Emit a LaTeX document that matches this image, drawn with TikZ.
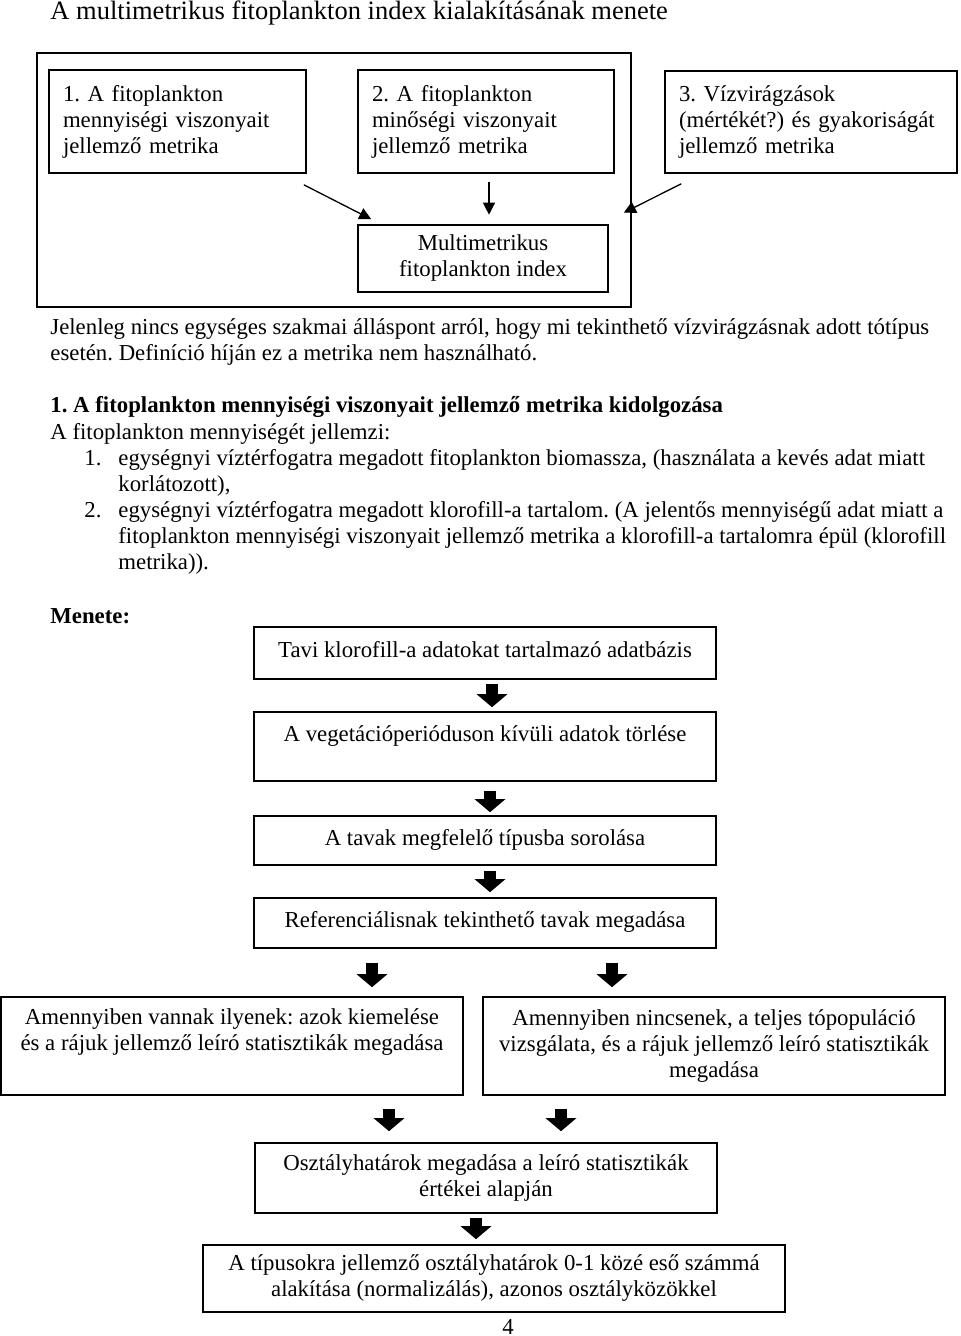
\documentclass[tikz,border=0pt]{standalone}
\usepackage{fontspec}
\setmainfont{Liberation Serif}
\usetikzlibrary{calc, positioning, arrows.meta}
\frenchspacing
\newcommand{\txtfont}{\fontsize{11.4pt}{13pt}\selectfont}
\newcommand{\ttlfont}{\fontsize{13.25pt}{15pt}\selectfont}

\begin{document}
\begin{tikzpicture}[x=0.5pt, y=-0.5pt,
  txt/.style={anchor=base west, inner sep=0pt, font=\txtfont},
  box/.style={draw, line width=0.8pt, inner xsep=7pt, inner ysep=0pt, font=\txtfont},
  topbox/.style={box, align=left},
  flow/.style={box, align=center, minimum width=#1},
  single/.style={text height=8pt, text depth=3.5pt},
  arr/.style={line width=0.65pt, -{Triangle[length=6pt, width=6pt]}},
  fat/.style={line width=6pt, -{Triangle[length=6.5pt, width=15pt]}}]
  \path[use as bounding box, fill=white] (0,0) rectangle (960,1336);

  % Title
  \node[txt, font=\ttlfont] (title) at (50,20) {A multimetrikus fitoplankton index kialakításának menete};

  % Frame round the first two metrics
  \draw[line width=0.8pt] (37,53) rectangle (631,307);

  % Metrics
  \node[topbox, text width=114.5pt, minimum height=51.5pt] (mq) at (177.5,121.5) {1. A fitoplankton\\mennyiségi viszonyait\\jellemző metrika};
  \node[topbox, text width=114pt, minimum height=51.5pt] (mql) at (486,121.5) {2. A fitoplankton\\minőségi viszonyait\\jellemző metrika};
  \node[topbox, text width=132pt, minimum height=51pt] (mv) at (811,122) {3. Vízvirágzások\\(mértékét?) és gyakoriságát\\jellemző metrika};
  \node[flow=125pt, minimum height=33.5pt] (mfi) at (483,258.5) {Multimetrikus\\fitoplankton index};

  \draw[arr] ($(mq.south east)+(-3,11)$) -- ($(mfi.north west)+(14,-5)$);
  \draw[arr] ($(mql.south)+(3,8)$) -- ($(mfi.north)+(6,-9.5)$);
  \draw[arr] ($(mv.south west)+(17,10)$) -- ($(mfi.north east)+(15,-11.5)$);

  % Text
  \node[txt] (p1) at (50,335) {Jelenleg nincs egységes szakmai álláspont arról, hogy mi tekinthető vízvirágzásnak adott tótípus};
  \node[txt] (p2) at (50,361) {esetén. Definíció híján ez a metrika nem használható.};
  \node[txt, font=\txtfont\bfseries] (h1) at (50,413) {1. A fitoplankton mennyiségi viszonyait jellemző metrika kidolgozása};
  \node[txt] (p3) at (50,439) {A fitoplankton mennyiségét jellemzi:};
  \node[txt] (n1) at (84,465) {1.};
  \node[txt] (l1a) at (118,465) {egységnyi víztérfogatra megadott fitoplankton biomassza, (használata a kevés adat miatt};
  \node[txt] (l1b) at (118,491) {korlátozott),};
  \node[txt] (n2) at (84,517) {2.};
  \node[txt] (l2a) at (118,517) {egységnyi víztérfogatra megadott klorofill-a tartalom. (A jelentős mennyiségű adat miatt a};
  \node[txt] (l2b) at (118,543) {fitoplankton mennyiségi viszonyait jellemző metrika a klorofill-a tartalomra épül (klorofill};
  \node[txt] (l2c) at (118,569) {metrika)).};
  \node[txt, font=\txtfont\bfseries] (menete) at (50,623) {Menete:};

  % Steps
  \node[flow=231pt, single, minimum height=26pt] (A) at (485,653) {Tavi klorofill-a adatokat tartalmazó adatbázis};
  \node[flow=231pt, minimum height=34.5pt] (B) at (485,746.5) {A vegetációperióduson kívüli adatok törlése\\\mbox{}};
  \node[flow=231pt, single, minimum height=24.5pt] (C) at (485,840.5) {A tavak megfelelő típusba sorolása};
  \node[flow=231pt, single, minimum height=25pt] (D) at (485,923) {Referenciálisnak tekinthető tavak megadása};
  \node[flow=231pt, minimum height=49pt] (E) at (232,1046) {Amennyiben vannak ilyenek: azok kiemelése\\és a rájuk jellemző leíró statisztikák megadása\\\rule[-3pt]{0pt}{0pt}};
  \node[flow=231pt, minimum height=49pt] (F) at (714,1046) {Amennyiben nincsenek, a teljes tópopuláció\\vizsgálata, és a rájuk jellemző leíró statisztikák\\megadása};
  \node[flow=231pt, minimum height=35pt] (G) at (486,1178) {Osztályhatárok megadása a leíró statisztikák\\értékei alapján};
  \node[flow=291pt, minimum height=33.5pt] (H) at (494,1278.5) {A típusokra jellemző osztályhatárok 0-1 közé eső számmá\\alakítása (normalizálás), azonos osztályközökkel};

  \draw[fat] ($(A.south)+(7,4)$) -- ($(B.north)+(7,-4)$);
  \draw[fat] ($(B.south)+(5,9)$) -- ($(C.north)+(5,-3)$);
  \draw[fat] ($(C.south)+(5,5)$) -- ($(D.north)+(5,-5)$);
  \draw[fat] ($(D.south)+(-113,14)$) -- ($(E.north)+(140,-9)$);
  \draw[fat] ($(D.south)+(127,14)$) -- ($(F.north)+(-102,-9)$);
  \draw[fat] ($(E.south)+(157,13)$) -- ($(G.north)+(-97,-11)$);
  \draw[fat] ($(F.south)+(-153,13)$) -- ($(G.north)+(75,-11)$);
  \draw[fat] ($(G.south)+(-10,4)$) -- ($(H.north)+(-18,-5)$);

  \node[anchor=base, inner sep=0pt, font=\txtfont] (pnum) at (508,1334) {4};
\end{tikzpicture}
\end{document}
